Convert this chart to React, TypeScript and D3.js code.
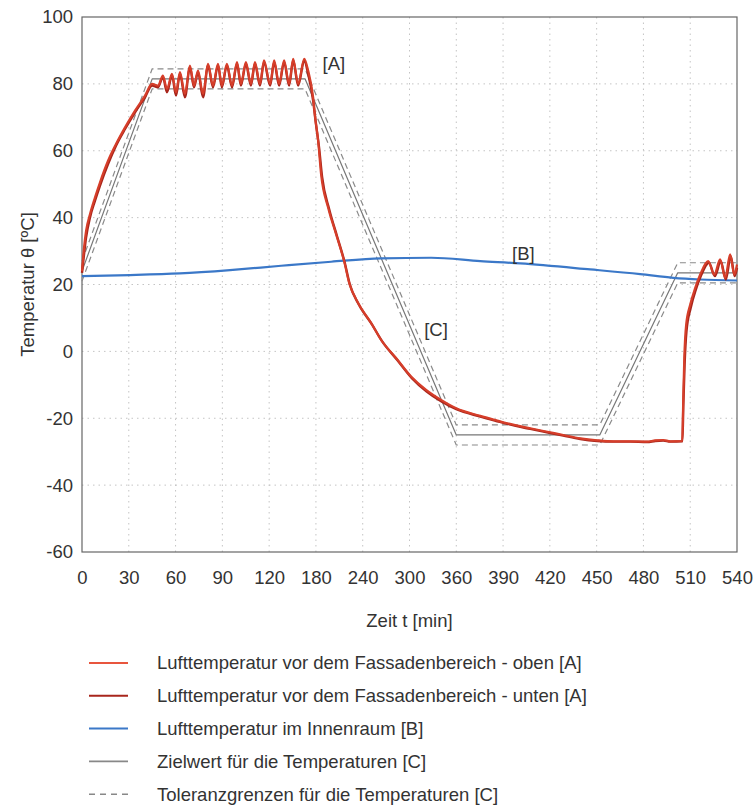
import React, { useEffect, useRef } from "react";
import * as d3 from "d3";

// tick labels (the x axis is spaced evenly per label, not per minute)
const xTicks = [0, 30, 60, 90, 120, 180, 240, 300, 360, 390, 420, 450, 480, 510, 540];
const yTicks = [-60, -40, -20, 0, 20, 40, 60, 80, 100];

// [t in min, temperature]
const frontTop: [number, number][] = [
  [0, 24], [1.3, 31], [2.6, 36], [5.1, 41], [8.3, 46], [11.5, 50.5], [16.7, 57], [21.8, 62],
  [27.6, 67], [34, 72], [40.4, 76.5], [44.9, 80],
  [48.7, 79.5], [51.9, 82.5], [54.5, 78.5], [57.7, 83], [60.3, 77.5], [62.8, 83.5], [66, 77],
  [69.2, 85.5], [71.8, 79.5], [74.4, 84], [77.6, 77], [80.8, 86], [84, 79.5], [87.2, 86],
  [89.7, 79.5], [92.9, 86], [96.2, 79.5], [99.4, 86.5], [101.9, 80], [105.1, 86.5], [108.3, 80],
  [110.9, 86.5], [114.1, 80], [116.7, 87], [121.3, 80], [126.4, 87], [132.8, 80], [139.2, 87],
  [145.6, 80], [150.8, 87.5], [157.2, 80], [165, 87.5], [170, 84],
  [176.4, 76], [179, 70], [182.8, 63], [186.6, 53], [195.6, 43], [205.9, 35], [216.1, 27],
  [222.6, 20.5], [234.1, 14.5], [250.8, 8.5], [263.6, 3.4], [282.8, -2], [302, -7.5],
  [321.3, -11.5], [340.5, -14.5], [360, -17], [375.4, -19.3], [386.3, -20.7], [392.7, -21.5],
  [407.4, -23], [420.2, -24.2], [428.6, -25], [439.5, -26], [450.4, -26.6], [460.6, -26.9],
  [471.5, -26.9], [482.4, -27], [487.6, -26.6], [492.7, -26.5], [497.2, -26.9], [504.9, -26.8],
  [505.5, -15], [506.2, -2], [507.4, 8], [510, 14], [513.2, 19], [516.4, 23], [521.5, 27],
  [525.4, 23], [529.2, 27.5], [532.4, 22], [535.6, 29], [538.2, 23], [540, 26],
];

const frontBottom: [number, number][] = [
  [0, 23.5], [1.3, 29], [2.6, 34], [5.1, 40], [8.3, 45], [11.5, 49.5], [16.7, 56], [21.8, 61.5],
  [27.6, 66.5], [34, 71.5], [40.4, 76], [44.9, 79.5],
  [48.7, 79], [51.9, 82], [54.5, 77.5], [57.7, 82.5], [60.3, 76.5], [62.8, 83], [66, 76],
  [69.2, 85], [71.8, 79], [74.4, 83.5], [77.6, 76], [80.8, 85.5], [84, 79], [87.2, 85.5],
  [89.7, 79], [92.9, 85.5], [96.2, 79], [99.4, 86], [101.9, 79.5], [105.1, 86], [108.3, 79.5],
  [110.9, 86], [114.1, 79.5], [116.7, 86.5], [121.3, 79.5], [126.4, 86.5], [132.8, 79.5],
  [139.2, 86.5], [145.6, 79.5], [150.8, 87], [157.2, 79.5], [165, 87], [170, 83],
  [176.4, 75], [179.5, 69], [184, 61], [188, 52], [197, 42.5], [207, 34.5], [217, 26.5],
  [223.5, 20], [235, 14], [252, 8], [265, 3], [284, -2.5], [303, -8], [322, -12], [341, -15],
  [360, -17.3], [375.4, -19.5], [386.3, -20.9], [392.7, -21.7], [407.4, -23.2], [420.2, -24.4],
  [428.6, -25.2], [439.5, -26.2], [450.4, -26.8], [460.6, -27], [471.5, -27], [482.4, -27.1],
  [487.6, -26.8], [492.7, -26.7], [497.2, -27], [505, -26.9],
  [505.6, -16], [506.4, -4], [507.6, 6], [510.3, 13], [513.6, 18.5], [516.8, 22.5], [522, 26.5],
  [525.8, 22.5], [529.6, 27], [532.8, 21.5], [536, 28.5], [538.5, 22.5], [540, 25],
];

const interior: [number, number][] = [
  [0, 22.5], [30.8, 22.8], [62.8, 23.3], [94.9, 24.3], [135.4, 25.6], [199.5, 26.8],
  [263.6, 27.8], [327.7, 28], [375.4, 27], [401, 26.3], [445.9, 24.5], [477.9, 23.1],
  [499.1, 22], [516.4, 21.5], [540, 21.2],
];

const target: [number, number][] = [
  [0, 24], [45, 81.5], [166, 81.5], [360, -25], [452, -25], [502, 23.5], [540, 23.5],
];
const toleranceHigh: [number, number][] = [
  [0, 27], [45, 84.5], [166, 84.5], [360, -22], [452, -22], [502, 26.5], [540, 26.5],
];
const toleranceLow: [number, number][] = [
  [0, 21], [45, 78.5], [166, 78.5], [360, -28], [452, -28], [502, 20.5], [540, 20.5],
];

const annotations = [
  { label: "[A]", t: 203, v: 86.2 },
  { label: "[B]", t: 403, v: 29.4 },
  { label: "[C]", t: 334, v: 6.4 },
];

const legendLabels = [
  "Lufttemperatur vor dem Fassadenbereich - oben [A]",
  "Lufttemperatur vor dem Fassadenbereich - unten [A]",
  "Lufttemperatur im Innenraum [B]",
  "Zielwert für die Temperaturen [C]",
  "Toleranzgrenzen für die Temperaturen [C]",
];

const FONT = "'Liberation Sans', Arial, sans-serif";

const drawChart = (svgEl: SVGSVGElement) => {
  const width = 755;
  const height = 807;
  const plotLeft = 82;
  const plotRight = 737;
  const plotTop = 17;
  const plotBottom = 552;

  const svg = d3.select(svgEl);
  svg.selectAll("*").remove();
  svg.attr("width", width).attr("height", height);

  const step = (plotRight - plotLeft) / (xTicks.length - 1);
  const x = d3
    .scaleLinear()
    .domain(xTicks)
    .range(xTicks.map((_, i) => plotLeft + i * step));
  const y = d3.scaleLinear().domain([-60, 100]).range([plotBottom, plotTop]);

  // grid
  const grid = svg.append("g").attr("stroke", "#c4c4c4").attr("stroke-dasharray", "1.5,4");
  grid
    .selectAll("line.v")
    .data(xTicks.slice(1, -1))
    .join("line")
    .attr("x1", (d) => x(d))
    .attr("x2", (d) => x(d))
    .attr("y1", plotTop)
    .attr("y2", plotBottom);
  grid
    .selectAll("line.h")
    .data(yTicks.slice(1, -1))
    .join("line")
    .attr("x1", plotLeft)
    .attr("x2", plotRight)
    .attr("y1", (d) => y(d))
    .attr("y2", (d) => y(d));

  // axes (labels only)
  const fmt = (d: d3.NumberValue) => String(d);
  const yAxis = svg
    .append("g")
    .attr("transform", `translate(${plotLeft},0)`)
    .call(d3.axisLeft(y).tickValues(yTicks).tickSize(0).tickPadding(9).tickFormat(fmt));
  const xAxis = svg
    .append("g")
    .attr("transform", `translate(0,${plotBottom})`)
    .call(d3.axisBottom(x).tickValues(xTicks).tickSize(0).tickPadding(19).tickFormat(fmt));
  [yAxis, xAxis].forEach((g) => {
    g.select(".domain").remove();
    g.selectAll("text").attr("font-family", FONT).attr("font-size", 18.5).attr("fill", "#333");
  });

  svg
    .append("rect")
    .attr("x", plotLeft)
    .attr("y", plotTop)
    .attr("width", plotRight - plotLeft)
    .attr("height", plotBottom - plotTop)
    .attr("fill", "none")
    .attr("stroke", "#666")
    .attr("stroke-width", 1.2);

  const linear = d3
    .line<[number, number]>()
    .x((d) => x(d[0]))
    .y((d) => y(d[1]));
  const smoothLine = d3
    .line<[number, number]>()
    .x((d) => x(d[0]))
    .y((d) => y(d[1]))
    .curve(d3.curveMonotoneX);

  const series = [
    { data: toleranceHigh, color: "#8a8a8a", w: 1.2, dash: "6,4", gen: linear },
    { data: toleranceLow, color: "#8a8a8a", w: 1.2, dash: "6,4", gen: linear },
    { data: target, color: "#777", w: 1.2, dash: null, gen: linear },
    { data: interior, color: "#3b78c8", w: 2.2, dash: null, gen: smoothLine },
    { data: frontBottom, color: "#a8261c", w: 2.4, dash: null, gen: smoothLine },
    { data: frontTop, color: "#d63e2a", w: 2.2, dash: null, gen: smoothLine },
  ];
  series.forEach((s) => {
    svg
      .append("path")
      .datum(s.data)
      .attr("d", s.gen)
      .attr("fill", "none")
      .attr("stroke", s.color)
      .attr("stroke-width", s.w)
      .attr("stroke-linejoin", "round")
      .attr("stroke-dasharray", s.dash);
  });

  svg
    .append("g")
    .selectAll("text")
    .data(annotations)
    .join("text")
    .attr("x", (d) => x(d.t))
    .attr("y", (d) => y(d.v))
    .attr("dy", "0.35em")
    .attr("text-anchor", "middle")
    .attr("font-family", FONT)
    .attr("font-size", 18.5)
    .attr("fill", "#333")
    .text((d) => d.label);

  // axis titles
  svg
    .append("text")
    .attr("x", (plotLeft + plotRight) / 2)
    .attr("y", 621)
    .attr("dy", "0.35em")
    .attr("text-anchor", "middle")
    .attr("font-family", FONT)
    .attr("font-size", 18.5)
    .attr("fill", "#333")
    .text("Zeit t [min]");
  svg
    .append("text")
    .attr("transform", `translate(28,${(plotTop + plotBottom) / 2}) rotate(-90)`)
    .attr("dy", "0.35em")
    .attr("text-anchor", "middle")
    .attr("font-family", FONT)
    .attr("font-size", 18.5)
    .attr("fill", "#333")
    .text("Temperatur θ [ºC]");

  // legend
  const legendColors = ["#e8553d", "#a8261c", "#3b78c8", "#888", "#888"];
  const legend = svg
    .append("g")
    .selectAll("g")
    .data(legendLabels)
    .join("g")
    .attr("transform", (_, i) => `translate(0,${663 + i * 32.8})`);
  legend
    .append("line")
    .attr("x1", 89)
    .attr("x2", 128)
    .attr("stroke", (_, i) => legendColors[i])
    .attr("stroke-width", (_, i) => (i < 3 ? 2 : 1.6))
    .attr("stroke-dasharray", (_, i) => (i === 4 ? "6,5" : null));
  legend
    .append("text")
    .attr("x", 157)
    .attr("dy", "0.35em")
    .attr("font-family", FONT)
    .attr("font-size", 18.5)
    .attr("fill", "#333")
    .text((d) => d);
};

export default function App() {
  const ref = useRef<SVGSVGElement>(null);
  useEffect(() => {
    if (ref.current) drawChart(ref.current);
  }, []);
  return (
    <svg
      ref={ref}
      style={{ position: "absolute", left: 0, top: 0, background: "#fff" }}
    />
  );
}
